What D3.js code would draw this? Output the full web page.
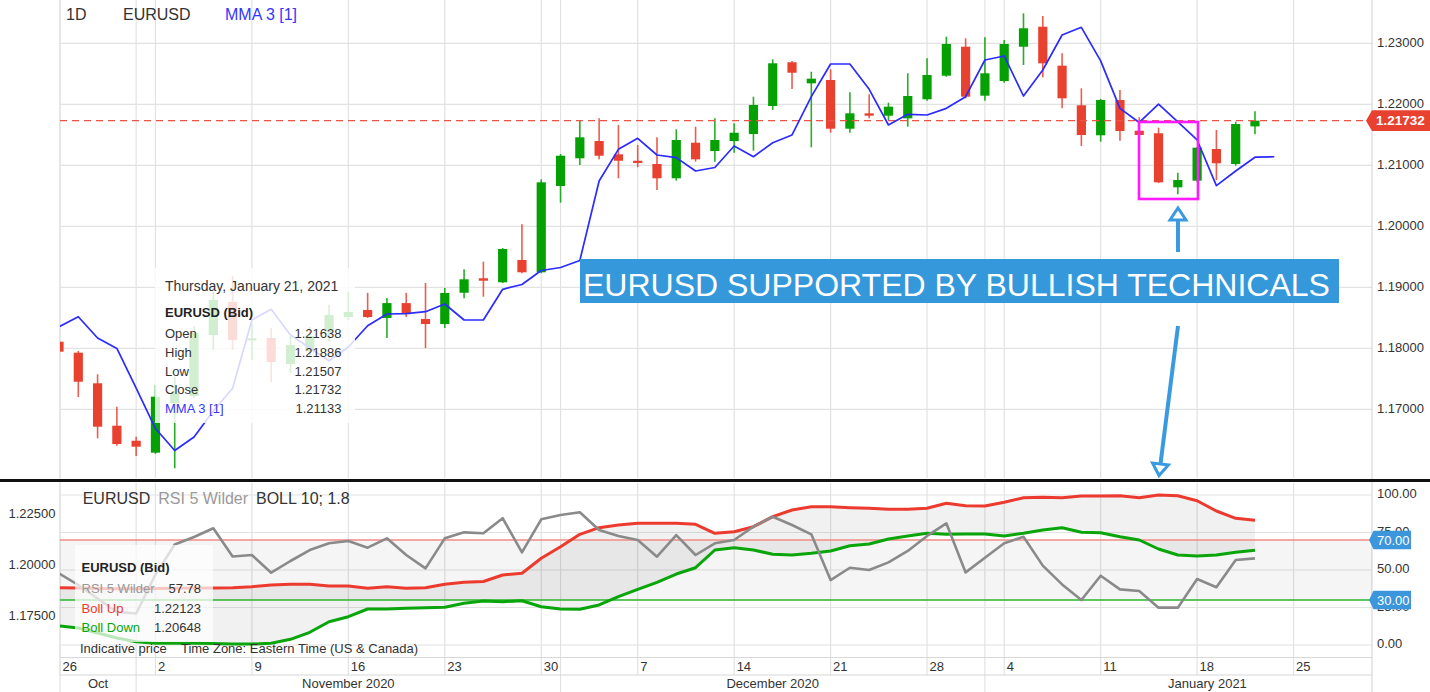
<!DOCTYPE html>
<html><head><meta charset="utf-8">
<script src="https://cdn.jsdelivr.net/npm/d3@7"></script>
<style>
html,body{margin:0;padding:0;background:#fff;}
svg{display:block;font-family:"Liberation Sans",Arial,Helvetica,sans-serif;}
</style></head><body>
<svg id="c" width="1430" height="692"></svg>
<script>
// ---------- DATA ----------
const categories = [
"2020-10-26","2020-10-27","2020-10-28","2020-10-29","2020-10-30",
"2020-11-02","2020-11-03","2020-11-04","2020-11-05","2020-11-06",
"2020-11-09","2020-11-10","2020-11-11","2020-11-12","2020-11-13",
"2020-11-16","2020-11-17","2020-11-18","2020-11-19","2020-11-20",
"2020-11-23","2020-11-24","2020-11-25","2020-11-26","2020-11-27",
"2020-11-30","2020-12-01","2020-12-02","2020-12-03","2020-12-04",
"2020-12-07","2020-12-08","2020-12-09","2020-12-10","2020-12-11",
"2020-12-14","2020-12-15","2020-12-16","2020-12-17","2020-12-18",
"2020-12-21","2020-12-22","2020-12-23","2020-12-24","2020-12-25",
"2020-12-28","2020-12-29","2020-12-30","2020-12-31",
"2021-01-04","2021-01-05","2021-01-06","2021-01-07","2021-01-08",
"2021-01-11","2021-01-12","2021-01-13","2021-01-14","2021-01-15",
"2021-01-18","2021-01-19","2021-01-20","2021-01-21","2021-01-22",
"2021-01-25"];

const opens  = [1.18108,1.17928,1.17426,1.16731,1.16485,1.16289,1.17103,1.17218,1.18218,1.18759,
1.18130,1.18169,1.17743,1.17950,1.18267,1.18513,1.18628,1.18497,1.18741,1.18480,
1.18398,1.18911,1.19148,1.19082,1.19448,1.19246,1.20661,1.21115,1.21398,1.21180,
1.21075,1.21021,1.20787,1.21370,1.21234,1.21398,1.21513,1.21972,1.22689,1.22344,
1.22398,1.21600,1.21852,1.21813,1.21770,1.22082,1.22469,1.22944,1.22141,1.22382,
1.22944,1.23272,1.22633,1.21984,1.21492,1.22070,1.21567,1.21525,1.20639,1.20748,
1.21267,1.21021,1.21638];
const highs  = [1.18200,1.17956,1.17574,1.17043,1.16551,1.17398,1.17534,1.18366,1.18923,1.19185,
1.18414,1.18333,1.18202,1.18350,1.18710,1.18923,1.18909,1.18823,1.18909,1.19070,
1.18989,1.19295,1.19420,1.19645,1.20033,1.20770,1.21185,1.21743,1.21770,1.21661,
1.21333,1.21459,1.21590,1.21633,1.21770,1.21689,1.22125,1.22738,1.22710,1.22534,
1.22574,1.22197,1.22164,1.22026,1.22508,1.22754,1.23108,1.23082,1.23098,1.23054,
1.23492,1.23448,1.22836,1.22262,1.22087,1.22234,1.21787,1.21616,1.20879,1.21300,
1.21579,1.21715,1.21886];
const lows   = [1.17910,1.17202,1.16525,1.16403,1.16234,1.16270,1.16033,1.17185,1.17972,1.17972,
1.17808,1.17448,1.17595,1.17850,1.18103,1.18464,1.18497,1.18167,1.18513,1.18005,
1.18333,1.18820,1.18846,1.19070,1.19230,1.19230,1.20387,1.21005,1.21098,1.20787,
1.20967,1.20595,1.20748,1.21059,1.21059,1.21207,1.21239,1.21907,1.22251,1.21295,
1.21534,1.21534,1.21770,1.21743,1.21633,1.22060,1.22450,1.22098,1.22059,1.22354,
1.22644,1.22443,1.21934,1.21316,1.21387,1.21403,1.21480,1.20710,1.20525,1.20730,
1.20759,1.20993,1.21507];
const closes = [1.17944,1.17452,1.16715,1.16431,1.16387,1.17207,1.17267,1.18251,1.18792,1.18136,
1.18163,1.17775,1.18054,1.18200,1.18546,1.18595,1.18513,1.18741,1.18577,1.18398,
1.18907,1.19131,1.19108,1.19628,1.19246,1.20721,1.21157,1.21459,1.21157,1.21075,
1.21038,1.20787,1.21415,1.21098,1.21415,1.21534,1.21989,1.22672,1.22518,1.22420,
1.21600,1.21852,1.21813,1.21961,1.22136,1.22480,1.22989,1.22125,1.22508,1.22989,
1.23246,1.22672,1.22098,1.21497,1.22070,1.21562,1.21497,1.20721,1.20759,1.21289,
1.21033,1.21677,1.21732];
// MMA 3 [1] (one bar forward, so one point more than the candles)
const mma = [1.18354,1.18518,1.18169,1.17997,1.17349,1.16685,1.16325,1.16546,1.16972,1.17344,
1.18464,1.18639,1.18218,1.18005,1.17797,1.18021,1.18370,1.18562,1.18570,1.18600,
1.18726,1.18464,1.18464,1.18967,1.19046,1.19275,1.19325,1.19439,1.20743,1.21262,
1.21443,1.21169,1.21125,1.20907,1.20964,1.21316,1.21141,1.21370,1.21497,1.22125,
1.22661,1.22661,1.22246,1.21661,1.21836,1.21825,1.21934,1.22125,1.22726,1.22792,
1.22136,1.22562,1.23136,1.23262,1.22713,1.21934,1.21702,1.22002,1.21710,1.21415,
1.20666,1.20907,1.21133,1.21140];
const rsi = [47.8,40,31,22,21,47,67,72,77.8,59,
60,48.2,56,63.3,67.8,69.3,64.9,71.1,60,51.1,
71.1,75.1,74.5,84.5,61.8,83.8,86.7,88.5,76.7,72.7,
70,58.9,73.3,60,67.8,70,78.9,85.5,80,73.8,
43.3,51.5,50,55.1,62.7,72.7,81.1,48.4,58.2,67.8,
72.2,52.9,40.4,30,46.2,37.1,36,24.9,24.9,44,
38.5,56.7,57.78];
const bollUp = [1.18814,1.18800,1.18780,1.18760,1.18760,1.18770,1.18790,1.18799,1.18799,1.18814,
1.18863,1.18946,1.18980,1.18980,1.18897,1.18897,1.18784,1.18863,1.18784,1.18814,
1.18980,1.19078,1.19118,1.19436,1.19520,1.20255,1.20824,1.21431,1.21755,1.21887,
1.21971,1.21971,1.21971,1.21922,1.21480,1.21559,1.21804,1.22294,1.22623,1.22784,
1.22784,1.22735,1.22706,1.22657,1.22657,1.22706,1.22951,1.22833,1.22819,1.23000,
1.23225,1.23245,1.23225,1.23309,1.23309,1.23324,1.23225,1.23358,1.23324,1.23078,
1.22574,1.22216,1.22123];
const bollDown = [1.16936,1.16838,1.16593,1.16348,1.16167,1.16088,1.16088,1.16088,1.16078,1.16054,
1.16054,1.16088,1.16284,1.16627,1.17147,1.17392,1.17770,1.17770,1.17804,1.17833,
1.17853,1.18049,1.18162,1.18127,1.18176,1.17882,1.17770,1.17755,1.17966,1.18373,
1.18735,1.19078,1.19485,1.19794,1.20662,1.20775,1.20662,1.20451,1.20417,1.20500,
1.20613,1.20873,1.20956,1.21201,1.21348,1.21480,1.21431,1.21446,1.21446,1.21348,
1.21480,1.21642,1.21755,1.21529,1.21510,1.21314,1.21152,1.20711,1.20417,1.20368,
1.20417,1.20549,1.20648];

const priceTicks = [1.17,1.18,1.19,1.20,1.21,1.22,1.23];
const rsiTicks = [0,25,50,75,100];
const bollTicks = [1.175,1.20,1.225];
const rsiLevels = [70,30];
const weekTicks = ["2020-10-26","2020-11-02","2020-11-09","2020-11-16","2020-11-23","2020-11-30",
"2020-12-07","2020-12-14","2020-12-21","2020-12-28","2021-01-04","2021-01-11","2021-01-18","2021-01-25"];
const monthBounds = ["2020-10-30","2020-12-01","2020-12-31"];
const monthLabels = ["Oct","November 2020","December 2020","January 2021"];

// ---------- LAYOUT ----------
const W=1430, H=692, L=60, R=1372;
const topBottom=478, botTop=483, botBottom=657.5, rowSplit=675;
const font='"Liberation Sans",Arial,Helvetica,sans-serif';
const RED="#e8412f", GREEN="#04a004", BLUE="#2b2bff", GRID="#e2e2e2", TXT="#333";

const svg = d3.select("#c");
const ix = d => categories.indexOf(d);
const x = d3.scaleLinear().domain([0,64]).range([59,1293.56]);
const yP = d3.scaleLinear().domain([1.17,1.23]).range([409.3,43.3]);
const yR = d3.scaleLinear().domain([0,100]).range([645,495]);
const yB = d3.scaleLinear().domain([1.175,1.225]).range([614.5,512.5]);

const defs = svg.append("defs");
defs.append("clipPath").attr("id","clipTop").append("rect").attr("x",L).attr("y",0).attr("width",R-L).attr("height",topBottom);
defs.append("clipPath").attr("id","clipBot").append("rect").attr("x",L).attr("y",botTop).attr("width",R-L).attr("height",botBottom-botTop);

// ---------- GRID ----------
const grid = svg.append("g");
grid.selectAll("line.hp").data(priceTicks).join("line")
  .attr("x1",L).attr("x2",R).attr("y1",d=>yP(d)).attr("y2",d=>yP(d))
  .attr("stroke",GRID).attr("stroke-width",1.2);
grid.selectAll("line.hr").data(rsiTicks).join("line")
  .attr("x1",L).attr("x2",R).attr("y1",d=>yR(d)).attr("y2",d=>yR(d))
  .attr("stroke",GRID).attr("stroke-width",1.2);
const vx = d => Math.max(L, x(ix(d)));
weekTicks.concat(monthBounds).forEach(d=>{
  grid.append("line").attr("x1",vx(d)).attr("x2",vx(d)).attr("y1",0).attr("y2",topBottom).attr("stroke",GRID).attr("stroke-width",1.2);
  grid.append("line").attr("x1",vx(d)).attr("x2",vx(d)).attr("y1",botTop).attr("y2",rowSplit).attr("stroke",GRID).attr("stroke-width",1.2);
});
monthBounds.forEach(d=>{
  grid.append("line").attr("x1",vx(d)).attr("x2",vx(d)).attr("y1",rowSplit).attr("y2",H).attr("stroke",GRID).attr("stroke-width",1.2);
});
grid.append("line").attr("x1",L).attr("x2",L).attr("y1",0).attr("y2",H).attr("stroke",GRID).attr("stroke-width",1.2);
grid.append("line").attr("x1",R).attr("x2",R).attr("y1",0).attr("y2",H).attr("stroke","#d8d8d8").attr("stroke-width",1.2);
grid.append("line").attr("x1",L).attr("x2",R).attr("y1",botBottom).attr("y2",botBottom).attr("stroke","#d8d8d8").attr("stroke-width",1.2);
grid.append("line").attr("x1",L).attr("x2",R).attr("y1",rowSplit).attr("y2",rowSplit).attr("stroke","#d8d8d8").attr("stroke-width",1.2);

// ---------- TOP PANEL ----------
const topG = svg.append("g").attr("clip-path","url(#clipTop)");
const candles = d3.range(closes.length).map(i=>({i,o:opens[i],h:highs[i],l:lows[i],c:closes[i]}));
topG.selectAll("line.wick").data(candles).join("line")
  .attr("x1",d=>x(d.i)).attr("x2",d=>x(d.i)).attr("y1",d=>yP(d.h)).attr("y2",d=>yP(d.l))
  .attr("stroke",d=>d.c>=d.o?GREEN:RED).attr("stroke-width",1.6).attr("stroke-opacity",0.85);
topG.selectAll("rect.body").data(candles).join("rect")
  .attr("x",d=>x(d.i)-4.6).attr("width",9.2)
  .attr("y",d=>yP(Math.max(d.o,d.c)))
  .attr("height",d=>Math.max(2,Math.abs(yP(d.o)-yP(d.c))))
  .attr("fill",d=>d.c>=d.o?GREEN:RED);
const last = closes[closes.length-1];
topG.append("line").attr("x1",L).attr("x2",R).attr("y1",yP(last)).attr("y2",yP(last))
  .attr("stroke","#f0524a").attr("stroke-width",1.3).attr("stroke-dasharray","7,5");
topG.append("path").datum(mma.map((v,i)=>[i,v]))
  .attr("d",d3.line().x(d=>x(d[0])).y(d=>yP(d[1])))
  .attr("fill","none").attr("stroke",BLUE).attr("stroke-width",1.7).attr("stroke-linejoin","round");

// top legend
const tl = svg.append("g").attr("font-family",font).attr("font-size",16);
tl.append("text").attr("x",66).attr("y",19.5).attr("fill",TXT).text("1D");
tl.append("text").attr("x",123).attr("y",19.5).attr("fill",TXT).text("EURUSD");
tl.append("text").attr("x",225).attr("y",19.5).attr("fill","#3535ff").text("MMA 3 [1]");

// top tooltip
const tt = svg.append("g").attr("font-family",font);
tt.append("rect").attr("x",155).attr("y",268).attr("width",200).attr("height",155)
  .attr("fill","#fff").attr("fill-opacity",0.82);
const li = closes.length-1;
tt.append("text").attr("x",165).attr("y",290.5).attr("font-size",14).attr("fill",TXT)
  .text(d3.timeFormat("%A, %B %-d, %Y")(d3.timeParse("%Y-%m-%d")(categories[li])));
tt.append("text").attr("x",165).attr("y",316.5).attr("font-size",13).attr("font-weight","bold").attr("fill","#222").text("EURUSD (Bid)");
const rows = [["Open",opens[li],TXT],["High",highs[li],TXT],["Low",lows[li],TXT],["Close",closes[li],TXT],["MMA 3 [1]",mma[li],"#3535ff"]];
rows.forEach((r,k)=>{
  const yy = 338.3 + k*18.6;
  tt.append("text").attr("x",165).attr("y",yy).attr("font-size",13).attr("fill",r[2]).text(r[0]);
  tt.append("text").attr("x",341.5).attr("y",yy).attr("font-size",13).attr("fill",TXT).attr("text-anchor","end").text(d3.format(".5f")(r[1]));
});

// right price axis
const ra = svg.append("g").attr("font-family",font).attr("font-size",13).attr("fill",TXT);
ra.selectAll("text").data(priceTicks).join("text")
  .attr("x",1377).attr("y",d=>yP(d)+3.6).text(d=>d3.format(".5f")(d));
const yc = yP(last);
svg.append("path").attr("d",`M1366,${yc} L1372,${yc-10.3} H1430 V${yc+10.3} H1372 Z`).attr("fill","#e8412f");
svg.append("text").attr("x",1376).attr("y",yc+4.8).attr("font-family",font).attr("font-size",13.5)
  .attr("font-weight","bold").attr("fill","#fff").text(d3.format(".5f")(last));

// annotation
const ann = svg.append("g");
ann.append("rect").attr("x",580).attr("y",259).attr("width",759).attr("height",44).attr("fill","#3498db");
ann.append("text").attr("x",583).attr("y",295.5).attr("font-family",font).attr("font-size",32).attr("fill","#fff")
  .text("EURUSD SUPPORTED BY BULLISH TECHNICALS");
ann.append("rect").attr("x",1139).attr("y",122).attr("width",59).attr("height",77)
  .attr("fill","none").attr("stroke","#ff1aff").attr("stroke-width",2.6);
const AB="#3a9ae0";
ann.append("line").attr("x1",1178).attr("y1",252).attr("x2",1178).attr("y2",221).attr("stroke",AB).attr("stroke-width",4);
ann.append("path").attr("d","M1178,208 L1186,220 L1170,220 Z").attr("fill","#fff").attr("stroke",AB).attr("stroke-width",3);
ann.append("line").attr("x1",1178).attr("y1",326).attr("x2",1160.6).attr("y2",463).attr("stroke",AB).attr("stroke-width",4);
ann.append("path").attr("d","M1159,475.5 L1152.6,463 L1168.4,465 Z").attr("fill","#fff").attr("stroke",AB).attr("stroke-width",3);

// separator
svg.append("rect").attr("x",0).attr("y",479).attr("width",W).attr("height",3).attr("fill","#111");

// ---------- BOTTOM PANEL ----------
const bot = svg.append("g").attr("clip-path","url(#clipBot)");
bot.append("rect").attr("x",L).attr("width",R-L).attr("y",yR(70)).attr("height",yR(30)-yR(70))
  .attr("fill","#000").attr("fill-opacity",0.04);
const bi = d3.range(bollUp.length);
bot.append("path").datum(bi)
  .attr("d",d3.area().x(i=>x(i)).y0(i=>yB(bollDown[i])).y1(i=>yB(bollUp[i])))
  .attr("fill","#000").attr("fill-opacity",0.055);
bot.append("line").attr("x1",L).attr("x2",R).attr("y1",yR(70)).attr("y2",yR(70)).attr("stroke","#f08a84").attr("stroke-width",1.5);
bot.append("line").attr("x1",L).attr("x2",R).attr("y1",yR(30)).attr("y2",yR(30)).attr("stroke","#2ab52a").attr("stroke-width",1.3);
bot.append("path").datum(bi).attr("d",d3.line().x(i=>x(i)).y(i=>yB(bollUp[i])))
  .attr("fill","none").attr("stroke","#ec3b2e").attr("stroke-width",3).attr("stroke-linejoin","round");
bot.append("path").datum(bi).attr("d",d3.line().x(i=>x(i)).y(i=>yB(bollDown[i])))
  .attr("fill","none").attr("stroke","#0aa50a").attr("stroke-width",3).attr("stroke-linejoin","round");
bot.append("path").datum(d3.range(rsi.length)).attr("d",d3.line().x(i=>x(i)).y(i=>yR(rsi[i])))
  .attr("fill","none").attr("stroke","#8a8a8a").attr("stroke-width",2.6).attr("stroke-linejoin","round");

// bottom tooltip
const bt = svg.append("g").attr("font-family",font).attr("font-size",13);
bt.append("rect").attr("x",75).attr("y",545).attr("width",138).attr("height",97).attr("fill","#fff").attr("fill-opacity",0.72);
bt.append("text").attr("x",81.5).attr("y",572.3).attr("font-weight","bold").attr("fill","#222").text("EURUSD (Bid)");
const brows=[["RSI 5 Wilder",d3.format(".2f")(rsi[li]),"#999"],["Boll Up",d3.format(".5f")(bollUp[li]),"#ec3b2e"],["Boll Down",d3.format(".5f")(bollDown[li]),"#0aa50a"]];
brows.forEach((r,k)=>{
  const yy=593.3+k*19.2;
  bt.append("text").attr("x",81.5).attr("y",yy).attr("fill",r[2]).text(r[0]);
  bt.append("text").attr("x",201).attr("y",yy).attr("text-anchor","end").attr("fill",TXT).text(r[1]);
});

// bottom legend
const bl = svg.append("g").attr("font-family",font).attr("font-size",16);
bl.append("text").attr("x",82.7).attr("y",504.3).attr("fill",TXT).text("EURUSD");
bl.append("text").attr("x",158.3).attr("y",504.3).attr("fill","#9a9a9a").text("RSI 5 Wilder");
bl.append("text").attr("x",256).attr("y",504.3).attr("fill",TXT).text("BOLL 10; 1.8");
svg.append("text").attr("x",80).attr("y",653.3).attr("font-family",font).attr("font-size",13).attr("fill",TXT)
  .attr("xml:space","preserve").text("Indicative price    Time Zone: Eastern Time (US & Canada)");

// RSI axis labels (right)
const rr = svg.append("g").attr("font-family",font).attr("font-size",13).attr("fill",TXT);
rr.selectAll("text").data(rsiTicks).join("text").attr("x",1377).attr("y",d=>yR(d)+3).text(d=>d3.format(".2f")(d));
rsiLevels.forEach(v=>{
  const y0=yR(v);
  svg.append("path").attr("d",`M1369,${y0} L1373.5,${y0-9.3} H1411 V${y0+9.3} H1373.5 Z`).attr("fill","#3b96db");
  svg.append("text").attr("x",1377).attr("y",y0+4.7).attr("font-family",font).attr("font-size",13).attr("fill","#fff").text(d3.format(".2f")(v));
});
// Boll axis labels (left)
const lb = svg.append("g").attr("font-family",font).attr("font-size",13).attr("fill",TXT);
lb.selectAll("text").data(bollTicks).join("text").attr("x",55.5).attr("y",d=>yB(d)+5).attr("text-anchor","end").text(d=>d3.format(".5f")(d));

// ---------- X AXIS ----------
const xa = svg.append("g").attr("font-family",font).attr("font-size",13).attr("fill",TXT);
const pd = d3.timeParse("%Y-%m-%d");
xa.selectAll("text.day").data(weekTicks).join("text")
  .attr("x",d=>vx(d)+2.5).attr("y",671).text(d=>d3.timeFormat("%-d")(pd(d)));
const bnd = [L].concat(monthBounds.map(d=>x(ix(d)))).concat([W]);
xa.selectAll("text.mon").data(monthLabels).join("text")
  .attr("x",(d,k)=>(bnd[k]+bnd[k+1])/2).attr("y",688.3).attr("text-anchor","middle").text(d=>d);
</script>
</body></html>
